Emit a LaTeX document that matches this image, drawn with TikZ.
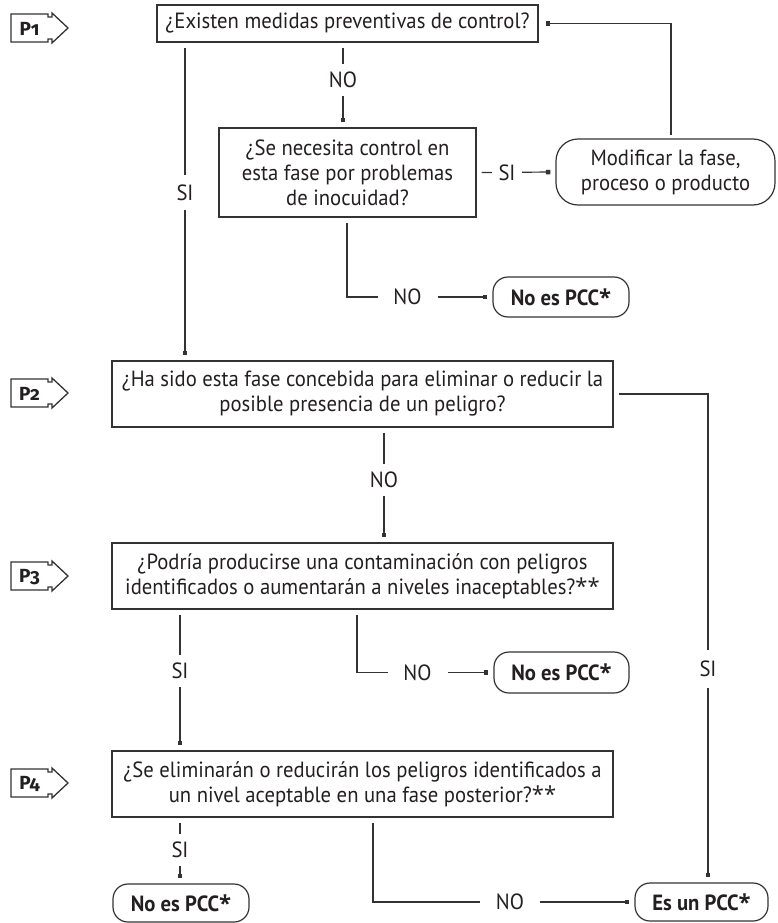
\documentclass[tikz,border=0pt]{standalone}
\usepackage{fontspec}
\setmainfont{PT Sans}[FakeStretch=0.94]
\newfontfamily\tagfont[Numbers=OldStyle]{Fira Sans}
\newfontfamily\astfont{Open Sans}
\usetikzlibrary{arrows.meta}
\definecolor{ink}{HTML}{333333}
\definecolor{txt}{HTML}{231F20}
\newcommand\qfont{\fontsize{22}{25}\selectfont}
\newcommand\pccast{{\astfont *}}
\begin{document}
\begin{tikzpicture}[x=1pt,y=-1pt,
  qbox/.style={draw=ink, line width=1.2pt, align=center, inner sep=0pt,
    font=\qfont, text=txt},
  rbox/.style={qbox, rounded corners=15pt},
  link/.style={draw=ink, line width=1.2pt, shorten <=5pt},
  tip/.style={-{Square[length=4.5pt,width=4.5pt]}, shorten >=5pt},
  lbl/.style={fill=white, inner sep=0pt, font=\qfont, text=txt},
  vlbl/.style={lbl, minimum height=32pt, minimum width=14pt},
  hlbl/.style={lbl, minimum width=60pt, minimum height=14pt},
  pics/ptag/.style={code={
    \draw[ink, line width=1.3pt, line join=miter]
      (11,-14) -- (48,-14) -- (48,-11) -- (52,-11) -- (52,-15) -- (68,0)
      -- (52,15) -- (52,11) -- (48,11) -- (48,14) -- (11,14) -- cycle;
    \node[font=\tagfont\bfseries\fontsize{19}{19}\selectfont, text=txt,
      inner sep=0pt] (-lab) at (29.5,1) {P#1};
  }}]
\useasboundingbox (0,0) rectangle (778,923);

% step tags
\pic (t1) at (0,28) {ptag={1}};
\pic (t2) at (0,393) {ptag={2}};
\pic (t3) at (0,576) {ptag={3}};
\pic (t4) at (0,783) {ptag={4}};

% questions and outcomes
\node[qbox, minimum width=381pt, minimum height=37pt] (b1) at (347.5,23.5)
  {¿Existen medidas preventivas de control?};
\node[qbox, minimum width=257pt, minimum height=89pt] (b2) at (347.5,172.5)
  {¿Se necesita control en\\esta fase por problemas\\de inocuidad?};
\node[rbox, rounded corners=22pt, minimum width=219pt, minimum height=66pt]
  (m1) at (665.5,172) {Modificar la fase,\\proceso o producto};
\node[rbox, minimum width=136pt, minimum height=40pt] (n1) at (561,297)
  {\textbf{No es PCC\pccast}};
\node[qbox, minimum width=501pt, minimum height=66pt] (q2) at (362.5,394)
  {¿Ha sido esta fase concebida para eliminar o reducir la\\posible presencia de un peligro?};
\node[qbox, minimum width=501pt, minimum height=66pt] (q3) at (362.5,576)
  {¿Podría producirse una contaminación con peligros\\identificados o aumentarán a niveles inaceptables?\pccast\pccast};
\node[rbox, minimum width=135pt, minimum height=41pt] (n2) at (561.5,672.5)
  {\textbf{No es PCC\pccast}};
\node[qbox, minimum width=501pt, minimum height=66pt] (q4) at (362.5,784)
  {¿Se eliminarán o reducirán los peligros identificados a\\un nivel aceptable en una fase posterior?\pccast\pccast};
\node[rbox, minimum width=136pt, minimum height=38pt] (n3) at (181,903)
  {\textbf{No es PCC\pccast}};
\node[rbox, minimum width=133pt, minimum height=38pt] (e1) at (701.5,902)
  {\textbf{Es un PCC\pccast}};

% columns used by the connectors
\coordinate (xa) at (185,0);
\coordinate (xb) at (343,0);
\coordinate (xc) at (671,0);
\coordinate (xd) at (347,0);
\coordinate (xe) at (384,0);
\coordinate (xf) at (708,0);
\coordinate (xg) at (357,0);
\coordinate (xh) at (180,0);
\coordinate (xi) at (373,0);

% connectors
\draw[link,tip] (b1.south -| xb) -- (b2.north -| xb);
\draw[link,tip] (b1.south -| xa) -- (q2.north -| xa);
\draw[link,tip] (b2.east) -- (m1.west);
\draw[link,tip, shorten <=3pt, shorten >=7pt] (m1.north -| xc) |- (b1.east);
\draw[link,tip] (b2.south -| xd) |- (n1.west);
\draw[link,tip] (q2.south -| xe) -- (q3.north -| xe);
\draw[link,tip] (q2.east) -| (e1.north -| xf);
\draw[link,tip] (q3.south -| xg) |- (n2.west);
\draw[link,tip] (q3.south -| xh) -- (q4.north -| xh);
\draw[link,tip] (q4.south -| xh) -- (n3.north -| xh);
\draw[link,tip] (q4.south -| xi) |- (e1.west);

% answer labels on the connectors
\node[vlbl] (l1) at (343,80) {NO};
\node[vlbl, minimum height=35pt] (l2) at (185,192.5) {SI};
\node[lbl, minimum width=30pt, minimum height=14pt] (l3) at (507,172.5) {SI};
\node[hlbl] (l4) at (407.5,297) {NO};
\node[vlbl] (l5) at (384,480) {NO};
\node[vlbl, minimum height=38pt] (l6) at (708,669) {SI};
\node[hlbl] (l7) at (417.5,672.5) {NO};
\node[vlbl] (l8) at (180,670.5) {SI};
\node[vlbl] (l9) at (180,850) {SI};
\node[hlbl] (l10) at (510,902) {NO};
\end{tikzpicture}
\end{document}
